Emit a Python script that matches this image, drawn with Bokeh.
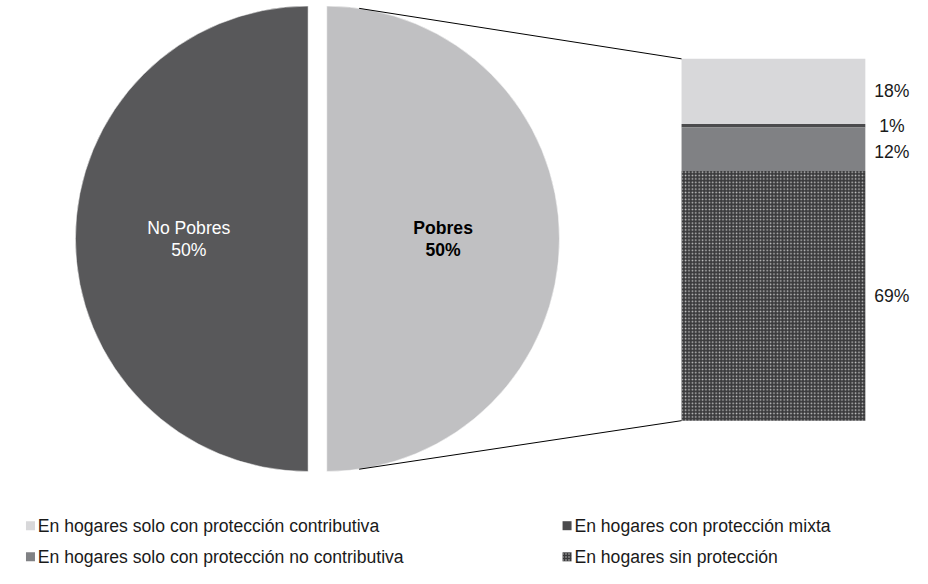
import math
from bokeh.plotting import figure
from bokeh.models import Range1d
from bokeh.core.properties import value
from bokeh.embed import file_html
from bokeh.resources import INLINE

# ---------------- data ----------------
pie_labels = ["No Pobres", "Pobres"]
pie_shares = [50, 50]
pie_colors = ["#58585a", "#c0c0c2"]

bar_categories = [
    "En hogares solo con protección contributiva",
    "En hogares con protección mixta",
    "En hogares solo con  protección no contributiva",
    "En hogares sin protección",
]
bar_values = [18, 1, 12, 69]
bar_colors = ["#d8d8da", "#4b4b4d", "#808184", "#3a3a3c"]
bar_hatch = ["", "", "", "dot"]
bar_label_shift = [0, 0, 1, 0]

# ---------------- layout (reference px -> data) ----------------
W, H = 912, 568
SX = W / 928
SY = H / 584
S = (SX + SY) / 2
def X(px): return px * SX
def Y(py): return H - py * SY

FONT = value("Liberation Sans")
FS = "17.6px"

p = figure(width=W, height=H, output_backend="svg", toolbar_location=None,
           x_range=Range1d(0, W), y_range=Range1d(0, H), min_border=0)
p.axis.visible = False
p.grid.visible = False
p.outline_line_color = None
p.background_fill_color = "white"
p.border_fill_color = "white"

R = 238 * S
cy = Y(245)
centers = [X(313), X(332)]  # No Pobres (left half), Pobres (exploded right half)

total = sum(pie_shares)
pob_span = pie_shares[1] / total * 2 * math.pi
nop_span = pie_shares[0] / total * 2 * math.pi
starts = [pob_span / 2, -pob_span / 2]
ends = [pob_span / 2 + nop_span, pob_span / 2]
mids = [math.pi, 0.0]

for i in range(2):
    p.wedge(x=centers[i], y=cy, radius=R, start_angle=starts[i], end_angle=ends[i],
            fill_color=pie_colors[i], line_color="white", line_width=0.5)

# pie labels
for i in range(2):
    lx = centers[i] + 0.5 * R * math.cos(mids[i])
    ly = cy + 0.5 * R * math.sin(mids[i])
    col = "white" if i == 0 else "black"
    style = "normal" if i == 0 else "bold"
    p.text(x=[lx - 3 * (i == 0)], y=[ly + 11 * S], text=[pie_labels[i]], text_align="center",
           text_baseline="middle", text_font=FONT, text_font_size=FS,
           text_color=col, text_font_style=style)
    p.text(x=[lx - 3 * (i == 0)], y=[ly - 11 * S], text=[f"{pie_shares[i]}%"], text_align="center",
           text_baseline="middle", text_font=FONT, text_font_size=FS,
           text_color=col, text_font_style=style)

# ---------------- stacked bar ----------------
bar_left, bar_right = X(693), X(880)
bar_top, bar_bottom = Y(60), Y(432)
bar_h = bar_top - bar_bottom
tot = sum(bar_values)
cur = bar_top
for v, c, h, sh in zip(bar_values, bar_colors, bar_hatch, bar_label_shift):
    seg = v / tot * bar_h
    kw = {}
    if h:
        kw = dict(hatch_pattern=h, hatch_color="#c4c4c4", hatch_scale=3.4, hatch_weight=1.4)
    p.quad(left=bar_left, right=bar_right, top=cur, bottom=cur - seg,
           fill_color=c, line_color=None, **kw)
    mid = cur - seg / 2
    p.text(x=[X(907)], y=[mid - 3 * sh], text=[f"{v}%"], text_align="center",
           text_baseline="middle", text_font=FONT, text_font_size=FS, text_color="#1a1a1a")
    cur -= seg

# connector lines
ang = math.radians(82)
tx = centers[1] + R * math.cos(ang)
ty = cy + R * math.sin(ang)
by = cy - R * math.sin(ang)
p.line(x=[tx, bar_left], y=[ty, bar_top], line_color="black", line_width=1)
p.line(x=[tx, bar_left], y=[by, bar_bottom], line_color="black", line_width=1)

# ---------------- legend ----------------
leg_sq_x = [X(30.5), X(576.5)]
leg_tx = [X(38), X(584)]
leg_rows = [Y(540), Y(572)]
order = [(0, 0, 0), (1, 1, 0), (2, 0, 1), (3, 1, 1)]  # (item, col, row)
for idx, col, row in order:
    kw = {}
    if bar_hatch[idx]:
        kw = dict(hatch_pattern=bar_hatch[idx], hatch_color="#c4c4c4", hatch_scale=3, hatch_weight=1.2)
    p.scatter(x=[leg_sq_x[col]], y=[leg_rows[row]], marker="square", size=9,
              fill_color=bar_colors[idx], line_color=None, **kw)
    p.text(x=[leg_tx[col]], y=[leg_rows[row]], text=[bar_categories[idx]],
           text_align="left", text_baseline="middle", text_font=FONT,
           text_font_size=FS, text_color="#1a1a1a")

open("out.html", "w").write(file_html(p, INLINE))
